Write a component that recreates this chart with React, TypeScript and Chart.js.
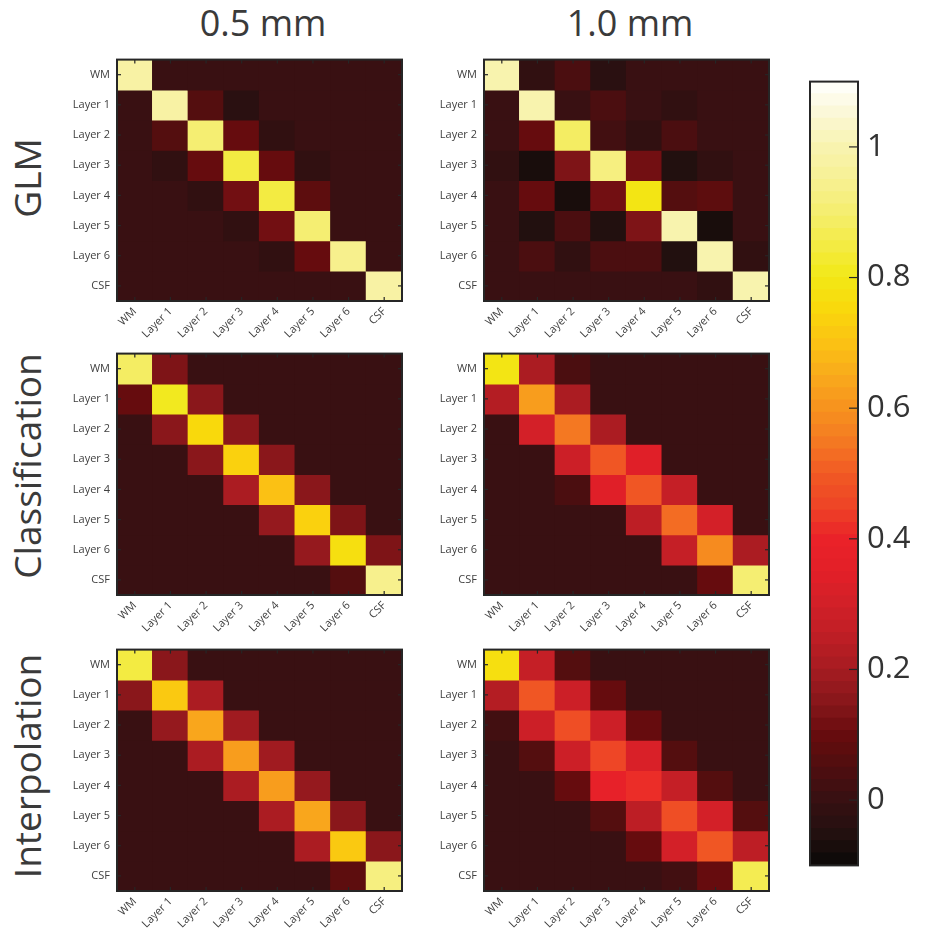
import React, { useEffect, useRef } from 'react';
import { Chart, registerables } from 'chart.js';

Chart.register(...registerables);
Chart.defaults.font.family = "'Open Sans', sans-serif";

// ---------- data ----------
const categories = ['WM', 'Layer 1', 'Layer 2', 'Layer 3', 'Layer 4', 'Layer 5', 'Layer 6', 'CSF'];
const columnTitles = ['0.5 mm', '1.0 mm'];
const rowTitles = ['GLM', 'Classification', 'Interpolation'];

const glm05 = [
  [0.98, 0, 0, 0, 0, 0, 0, 0],
  [0, 0.97, 0.06, -0.03, 0, 0, 0, 0],
  [0, 0.06, 0.9, 0.09, -0.02, 0, 0, 0],
  [0, -0.02, 0.1, 0.85, 0.09, -0.02, 0, 0],
  [0, 0, -0.02, 0.11, 0.85, 0.07, 0, 0],
  [0, 0, 0, -0.02, 0.12, 0.9, 0, 0],
  [0, 0, 0, 0, -0.02, 0.09, 0.95, 0],
  [0, 0, 0, 0, 0, 0, 0, 0.97],
];
const glm10 = [
  [0.99, -0.02, 0.04, -0.03, 0, 0, 0, 0],
  [0, 0.99, 0.01, 0.04, 0, -0.01, 0, 0],
  [0, 0.09, 0.88, 0.02, -0.02, 0.04, 0, 0],
  [-0.01, -0.08, 0.13, 0.93, 0.12, -0.05, -0.02, 0],
  [0, 0.1, -0.08, 0.12, 0.8, 0.05, 0.08, 0],
  [0, -0.05, 0.04, -0.05, 0.13, 1.0, -0.08, 0.01],
  [0, 0.04, -0.02, 0.04, 0.04, -0.05, 1.0, -0.02],
  [0, 0, 0, 0, 0, 0.01, -0.01, 1.0],
];
const cls05 = [
  [0.88, 0.13, 0, 0, 0, 0, 0, 0],
  [0.1, 0.81, 0.16, 0, 0, 0, 0, 0],
  [0, 0.15, 0.76, 0.16, 0, 0, 0, 0],
  [0, 0, 0.16, 0.73, 0.15, 0, 0, 0],
  [0, 0, 0, 0.2, 0.7, 0.15, 0, 0],
  [0, 0, 0, 0, 0.18, 0.74, 0.14, 0],
  [0, 0, 0, 0, 0, 0.18, 0.78, 0.14],
  [0, 0, 0, 0, 0, 0, 0.05, 0.95],
];
const cls10 = [
  [0.8, 0.2, 0.04, 0, 0, 0, 0, 0],
  [0.22, 0.63, 0.2, 0, 0, 0, 0, 0],
  [0, 0.3, 0.55, 0.2, 0, 0, 0, 0],
  [0, 0, 0.28, 0.5, 0.35, 0, 0, 0],
  [0, 0, 0.04, 0.35, 0.49, 0.27, 0, 0],
  [0, 0, 0, 0, 0.24, 0.52, 0.3, 0],
  [0, 0, 0, 0, 0, 0.26, 0.58, 0.2],
  [0, 0, 0, 0, 0, 0, 0.09, 0.9],
];
const int05 = [
  [0.85, 0.15, 0, 0, 0, 0, 0, 0],
  [0.15, 0.72, 0.2, 0, 0, 0, 0, 0],
  [0, 0.17, 0.64, 0.19, 0, 0, 0, 0],
  [0, 0, 0.2, 0.63, 0.19, 0, 0, 0],
  [0, 0, 0, 0.2, 0.63, 0.17, 0, 0],
  [0, 0, 0, 0, 0.2, 0.65, 0.15, 0],
  [0, 0, 0, 0, 0, 0.2, 0.72, 0.15],
  [0, 0, 0, 0, 0, 0, 0.08, 0.93],
];
const int10 = [
  [0.77, 0.27, 0.05, 0, 0, 0, 0, 0],
  [0.23, 0.5, 0.29, 0.09, 0, 0, 0, 0],
  [0.02, 0.29, 0.47, 0.29, 0.09, 0, 0, 0],
  [0, 0.05, 0.29, 0.45, 0.33, 0.05, 0, 0],
  [0, 0, 0.09, 0.37, 0.41, 0.26, 0.05, 0],
  [0, 0, 0, 0.05, 0.25, 0.47, 0.31, 0.05],
  [0, 0, 0, 0, 0.09, 0.3, 0.49, 0.25],
  [0, 0, 0, 0, 0, 0.02, 0.1, 0.87],
];

const colorbarTicks = [0, 0.2, 0.4, 0.6, 0.8, 1];
const colorbarMin = -0.1;
const colorbarMax = 1.1;
const colorLevels = 64;

const cmapStops = [-0.1, -0.05, 0, 0.05, 0.1, 0.15, 0.2, 0.25, 0.3, 0.35, 0.4, 0.45, 0.5, 0.55, 0.6, 0.65, 0.7, 0.75, 0.8, 0.85, 0.9, 0.95, 1.0, 1.05, 1.1];
const cmapColors = ['#0b0807', '#231010', '#381012', '#4f0e0f', '#680c0e', '#88171b', '#a61c21', '#bf1e25', '#d22028', '#e31f28', '#ea2229', '#ee4526', '#f15a24', '#f47a22', '#f7931e', '#f9aa1b', '#fbc214', '#f9d80b', '#f2e816', '#f3eb45', '#f5ee70', '#f7f194', '#f8f3b0', '#fbf8d6', '#ffffff'];

// ---------- colour helpers ----------
function hexToRgb(h: string) {
  const n = parseInt(h.slice(1), 16);
  return [(n >> 16) & 255, (n >> 8) & 255, n & 255];
}
function interpColor(v: number) {
  if (v <= cmapStops[0]) return cmapColors[0];
  for (let i = 1; i < cmapStops.length; i++) {
    if (v <= cmapStops[i]) {
      const t = (v - cmapStops[i - 1]) / (cmapStops[i] - cmapStops[i - 1]);
      const a = hexToRgb(cmapColors[i - 1]);
      const b = hexToRgb(cmapColors[i]);
      const c = a.map((x, k) => Math.round(x + (b[k] - x) * t));
      return `rgb(${c[0]},${c[1]},${c[2]})`;
    }
  }
  return cmapColors[cmapColors.length - 1];
}
const levelStep = (colorbarMax - colorbarMin) / colorLevels;
function colorFor(v: number) {
  let k = Math.floor((v - colorbarMin) / levelStep);
  k = Math.max(0, Math.min(colorLevels - 1, k));
  return interpColor(colorbarMin + (k + 0.5) * levelStep);
}

// ---------- frame / inward ticks plugin ----------
const framePlugin = {
  id: 'frame',
  afterDatasetsDraw(chart: any, _args: any, opts: any) {
    const { ctx, chartArea: a } = chart;
    ctx.save();
    ctx.strokeStyle = '#262626';
    const line = (x1: number, y1: number, x2: number, y2: number) => {
      ctx.beginPath();
      ctx.moveTo(x1, y1);
      ctx.lineTo(x2, y2);
      ctx.stroke();
    };
    ctx.lineWidth = 1.2;
    if (opts.mode === 'heat') {
      const xs = chart.scales.x;
      const ys = chart.scales.y;
      const len = 4;
      for (let i = 0; i < categories.length; i++) {
        const px = xs.getPixelForValue(i);
        line(px, a.top, px, a.top + len);
        line(px, a.bottom, px, a.bottom - len);
        const py = ys.getPixelForValue(i);
        line(a.left, py, a.left + len, py);
        line(a.right, py, a.right - len, py);
      }
    } else {
      const ys = chart.scales.y;
      for (const t of colorbarTicks) {
        const py = ys.getPixelForValue(t);
        line(a.right, py, a.right - 9, py);
      }
    }
    ctx.lineWidth = 2;
    ctx.strokeRect(a.left, a.top, a.right - a.left, a.bottom - a.top);
    ctx.restore();
  },
};

// ---------- layout ----------
const PLOT_W = 285;
const PLOT_H = 245;
const Y_AXIS_W = 70;
const X_AXIS_H = 50;
const PAD = 10;

function Heatmap({ matrix, left, top }: { matrix: number[][]; left: number; top: number }) {
  const ref = useRef<HTMLCanvasElement>(null);
  useEffect(() => {
    const chart = new Chart(ref.current as HTMLCanvasElement, {
      type: 'bar',
      data: {
        labels: categories,
        datasets: matrix.map((row, i) => ({
          data: categories.map(() => [i - 0.5, i + 0.5]),
          backgroundColor: row.map(colorFor),
          borderWidth: 0,
          inflateAmount: 0.6,
          grouped: false,
          barPercentage: 1,
          categoryPercentage: 1,
        })) as any,
      },
      options: {
        responsive: false,
        animation: false,
        devicePixelRatio: 1,
        layout: { padding: { top: PAD, right: PAD, left: 0, bottom: 0 } },
        plugins: {
          legend: { display: false },
          tooltip: { enabled: false },
          frame: { mode: 'heat' },
        } as any,
        scales: {
          x: {
            type: 'category',
            offset: true,
            grid: { display: false, drawTicks: false },
            border: { display: false },
            ticks: { minRotation: 45, maxRotation: 45, autoSkip: false, padding: 4, color: '#404040', font: { size: 11 } },
            afterFit: (s: any) => { s.height = X_AXIS_H; },
          },
          y: {
            type: 'linear',
            reverse: true,
            min: -0.5,
            max: 7.5,
            grid: { display: false, drawTicks: false },
            border: { display: false },
            afterBuildTicks: (s: any) => { s.ticks = categories.map((_, i) => ({ value: i })); },
            ticks: {
              autoSkip: false,
              padding: 7,
              color: '#404040',
              font: { size: 11 },
              callback: (v: any) => categories[v] ?? '',
            },
            afterFit: (s: any) => { s.width = Y_AXIS_W; },
          },
        } as any,
      },
      plugins: [framePlugin],
    });
    return () => chart.destroy();
  }, [matrix]);
  const w = Y_AXIS_W + PLOT_W + PAD;
  const h = PAD + PLOT_H + X_AXIS_H;
  return (
    <canvas
      ref={ref}
      width={w}
      height={h}
      style={{ position: 'absolute', left: left - Y_AXIS_W, top: top - PAD, width: w, height: h }}
    />
  );
}

const CB_LEFT = 810;
const CB_TOP = 64;
const CB_W = 48;
const CB_H = 819;
const CB_AXIS_W = 80;

function Colorbar() {
  const ref = useRef<HTMLCanvasElement>(null);
  useEffect(() => {
    const levels = Array.from({ length: colorLevels }, (_, k) => colorbarMin + k * levelStep);
    const chart = new Chart(ref.current as HTMLCanvasElement, {
      type: 'bar',
      data: {
        labels: ['c'],
        datasets: levels.map((l) => ({
          data: [[l, l + levelStep]],
          backgroundColor: colorFor(l + levelStep / 2),
          borderWidth: 0,
          inflateAmount: 0.6,
          grouped: false,
          barPercentage: 1,
          categoryPercentage: 1,
        })) as any,
      },
      options: {
        responsive: false,
        animation: false,
        devicePixelRatio: 1,
        layout: { padding: { top: PAD, right: 0, left: PAD, bottom: PAD } },
        plugins: {
          legend: { display: false },
          tooltip: { enabled: false },
          frame: { mode: 'bar' },
        } as any,
        scales: {
          x: { type: 'category', display: false, offset: true },
          y: {
            type: 'linear',
            position: 'right',
            min: colorbarMin,
            max: colorbarMax,
            grid: { display: false, drawTicks: false },
            border: { display: false },
            afterBuildTicks: (s: any) => { s.ticks = colorbarTicks.map((v) => ({ value: v })); },
            ticks: {
              padding: 9,
              color: '#333333',
              font: { size: 31 },
              callback: (v: any) => String(Math.round(v * 10) / 10),
            },
            afterFit: (s: any) => { s.width = CB_AXIS_W; },
          },
        } as any,
      },
      plugins: [framePlugin],
    });
    return () => chart.destroy();
  }, []);
  const w = PAD + CB_W + CB_AXIS_W;
  const h = PAD + CB_H + PAD;
  return (
    <canvas
      ref={ref}
      width={w}
      height={h}
      style={{ position: 'absolute', left: CB_LEFT - PAD, top: CB_TOP - PAD, width: w, height: h }}
    />
  );
}

const panelLefts = [117, 484];
const panelTops = [56, 350, 646];
const matrices = [
  [glm05, glm10],
  [cls05, cls10],
  [int05, int10],
];
const colTitleX = [263, 630];
const rowTitleY = [178, 466, 766];

export default function App() {
  return (
    <div
      style={{
        position: 'absolute',
        left: 0,
        top: 0,
        width: 927,
        height: 928,
        background: '#ffffff',
        fontFamily: "'Open Sans', sans-serif",
        color: '#3a3a3a',
        overflow: 'hidden',
      }}
    >
      {columnTitles.map((t, i) => (
        <div
          key={t}
          style={{
            position: 'absolute',
            left: colTitleX[i],
            top: 23,
            transform: 'translate(-50%, -50%)',
            fontSize: 36,
            lineHeight: 1,
            whiteSpace: 'nowrap',
          }}
        >
          {t}
        </div>
      ))}
      {rowTitles.map((t, i) => (
        <div
          key={t}
          style={{
            position: 'absolute',
            left: 26,
            top: rowTitleY[i],
            transform: 'translate(-50%, -50%) rotate(-90deg)',
            fontSize: 37,
            lineHeight: 1,
            whiteSpace: 'nowrap',
          }}
        >
          {t}
        </div>
      ))}
      {matrices.map((row, r) =>
        row.map((m, c) => <Heatmap key={`${r}-${c}`} matrix={m} left={panelLefts[c]} top={panelTops[r]} />)
      )}
      <Colorbar />
    </div>
  );
}
